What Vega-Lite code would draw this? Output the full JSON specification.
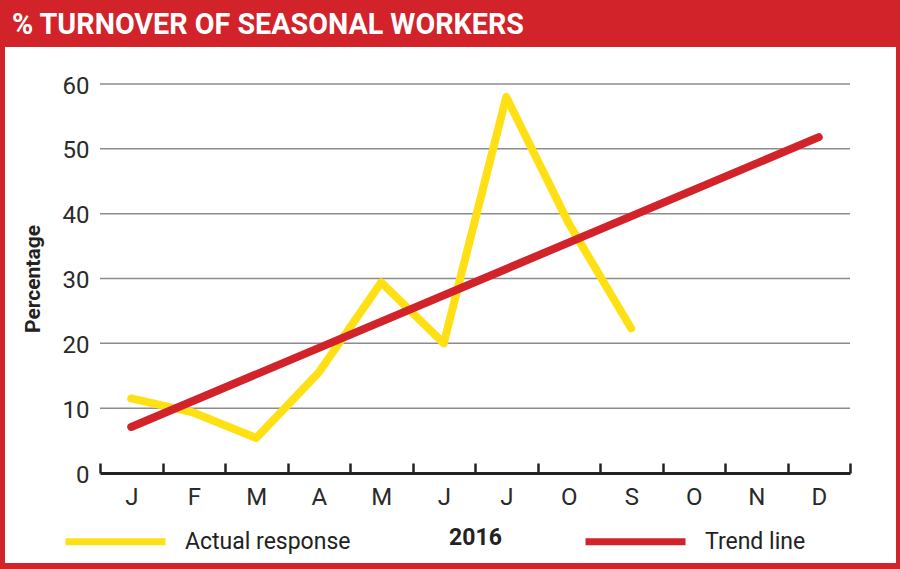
{
  "$schema": "https://vega.github.io/schema/vega-lite/v6.json",
  "width": 750,
  "height": 389,
  "autosize": {"type": "none"},
  "padding": {"left": 100, "top": 84, "right": 50, "bottom": 96},
  "background": "#D2232A",
  "title": {
    "text": "% TURNOVER OF SEASONAL WORKERS",
    "anchor": "start",
    "frame": "bounds",
    "color": "#ffffff",
    "font": "Roboto",
    "fontSize": 28.7,
    "fontWeight": "bold",
    "offset": 7,
    "dx": 7
  },
  "config": {"font": "Roboto", "view": {"stroke": null}},
  "datasets": {
    "frame": [{"x0": -1.02, "x1": 13.236, "y0": 65.71, "y1": -13.88}],
    "grid": [{"g": 10}, {"g": 20}, {"g": 30}, {"g": 40}, {"g": 50}, {"g": 60}],
    "series": [
      {"series": "Actual response", "month": "Jan", "m": 1, "v": 11.5},
      {"series": "Actual response", "month": "Feb", "m": 2, "v": 9.3},
      {"series": "Actual response", "month": "Mar", "m": 3, "v": 5.4},
      {"series": "Actual response", "month": "Apr", "m": 4, "v": 15.5},
      {"series": "Actual response", "month": "May", "m": 5, "v": 29.4},
      {"series": "Actual response", "month": "Jun", "m": 6, "v": 20.0},
      {"series": "Actual response", "month": "Jul", "m": 7, "v": 58.0},
      {"series": "Actual response", "month": "Aug", "m": 8, "v": 38.5},
      {"series": "Actual response", "month": "Sep", "m": 9, "v": 22.3},
      {"series": "Trend line", "month": "Jan", "m": 1, "v": 7.1},
      {"series": "Trend line", "month": "Dec", "m": 12, "v": 51.8}
    ]
  },
  "layer": [
    {
      "data": {"name": "frame"},
      "mark": {"type": "rect", "color": "#ffffff", "clip": false},
      "encoding": {
        "x": {
          "field": "x0", "type": "quantitative", "title": "2016",
          "scale": {"domain": [0.5, 12.5], "nice": false, "zero": false},
          "axis": {
            "values": [0.5, 1.5, 2.5, 3.5, 4.5, 5.5, 6.5, 7.5, 8.5, 9.5, 10.5, 11.5, 12.5],
            "labelExpr": "['J','F','M','A','M','J','J','O','S','O','N','D'][floor(datum.value)] || ''",
            "labelOffset": 31.25,
            "labelFlush": false,
            "labelOverlap": false,
            "labelBound": false,
            "grid": false,
            "domainColor": "#222222",
            "domainWidth": 3,
            "tickColor": "#222222",
            "tickWidth": 2.5,
            "tickSize": -10,
            "labelPadding": 22,
            "labelFont": "Roboto",
            "labelFontSize": 24,
            "labelColor": "#2a2a2a",
            "title": "2016",
            "titleFont": "Roboto",
            "titleFontWeight": "bold",
            "titleFontSize": 23,
            "titleColor": "#222222",
            "titlePadding": 17,
            "zindex": 1
          }
        },
        "x2": {"field": "x1"},
        "y": {
          "field": "y0", "type": "quantitative", "title": "Percentage",
          "scale": {"domain": [0, 60], "nice": false, "zero": false},
          "axis": {
            "values": [0, 10, 20, 30, 40, 50, 60],
            "domain": false,
            "ticks": false,
            "grid": false,
            "labelPadding": 11,
            "labelFont": "Roboto",
            "labelFontSize": 24,
            "labelColor": "#2a2a2a",
            "labelOffset": 2,
            "title": "Percentage",
            "titleFont": "Roboto",
            "titleFontSize": 21,
            "titleFontWeight": "bold",
            "titleColor": "#222222",
            "titlePadding": 19,
            "zindex": 1
          }
        },
        "y2": {"field": "y1"}
      }
    },
    {
      "data": {"name": "grid"},
      "mark": {"type": "rule", "color": "#8c8c8c", "strokeWidth": 1.5},
      "encoding": {
        "y": {"field": "g", "type": "quantitative", "title": "Percentage", "scale": {"domain": [0, 60], "nice": false, "zero": false}}
      }
    },
    {
      "data": {"name": "series"},
      "transform": [{"filter": "datum.series === 'Actual response'"}],
      "mark": {"type": "line", "strokeWidth": 8, "strokeCap": "round", "strokeJoin": "round"},
      "encoding": {
        "x": {"field": "m", "type": "quantitative", "title": "2016", "scale": {"domain": [0.5, 12.5], "nice": false, "zero": false}},
        "y": {"field": "v", "type": "quantitative", "title": "Percentage", "scale": {"domain": [0, 60], "nice": false, "zero": false}},
        "color": {
          "field": "series", "type": "nominal",
          "scale": {"domain": ["Actual response", "Trend line"], "range": ["#FFE015", "#D2232A"]},
          "legend": {
            "orient": "none",
            "legendX": -38,
            "legendY": 404,
            "direction": "horizontal",
            "title": null,
            "symbolType": "stroke",
            "symbolSize": 10000,
            "symbolStrokeWidth": 7,
            "labelFont": "Roboto",
            "labelFontSize": 23,
            "labelColor": "#222222",
            "labelOffset": 16,
            "labelLimit": 400,
            "columnPadding": 220
          }
        }
      }
    },
    {
      "data": {"name": "series"},
      "transform": [{"filter": "datum.series === 'Trend line'"}],
      "mark": {"type": "line", "strokeWidth": 8, "strokeCap": "round", "strokeJoin": "round"},
      "encoding": {
        "x": {"field": "m", "type": "quantitative", "title": "2016", "scale": {"domain": [0.5, 12.5], "nice": false, "zero": false}},
        "y": {"field": "v", "type": "quantitative", "title": "Percentage", "scale": {"domain": [0, 60], "nice": false, "zero": false}},
        "color": {"field": "series", "type": "nominal"}
      }
    }
  ]
}
